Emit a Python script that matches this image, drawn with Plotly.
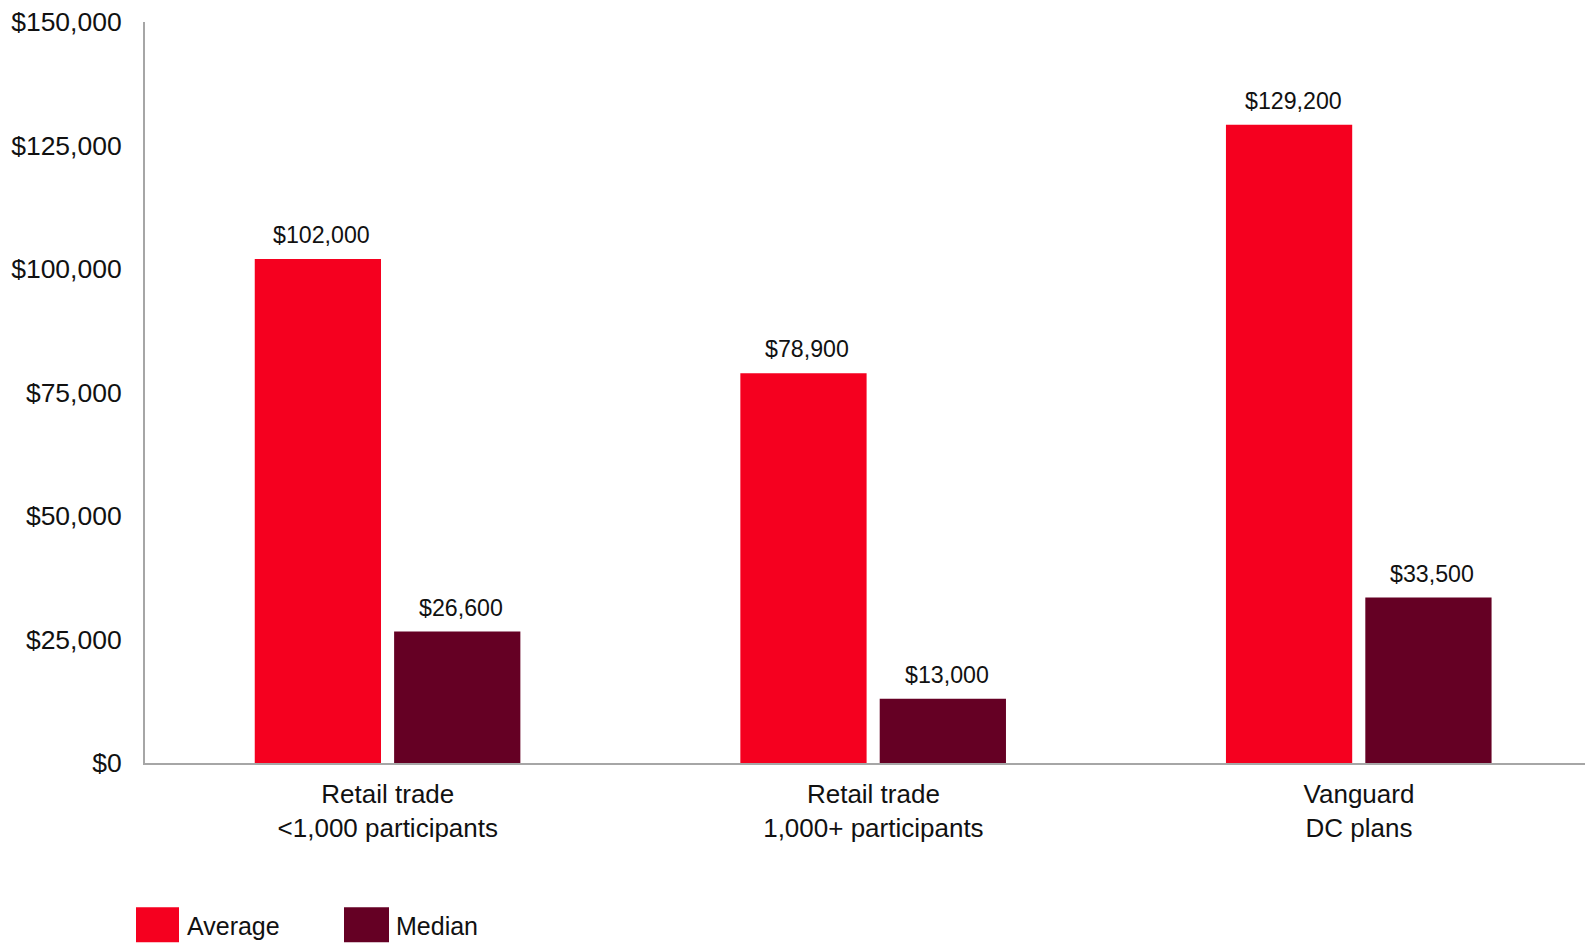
import plotly.graph_objects as go

# Account balances by plan type
categories = ["Retail trade<br><1,000 participants",
              "Retail trade<br>1,000+ participants",
              "Vanguard<br>DC plans"]
average = [102000, 78900, 129200]
median = [26600, 13000, 33500]
series_names = ["Average", "Median"]
y_ticks = [0, 25000, 50000, 75000, 100000, 125000, 150000]

RED = "#F5001F"
MAROON = "#650024"
FONT = "Arial, Liberation Sans, sans-serif"
TEXT = "#111111"
AXIS = "#A6A6A6"

BAR_W = 0.26
OFFSETS = [-0.274, 0.013]
positions = list(range(len(categories)))

fig = go.Figure()
for name, vals, color, off in zip(series_names, [average, median], [RED, MAROON], OFFSETS):
    fig.add_trace(go.Bar(
        x=positions, y=vals, name=name,
        width=BAR_W, offset=off,
        marker=dict(color=color, line=dict(width=0)),
        showlegend=False,
    ))
    # value labels above each bar
    for xi, v in zip(positions, vals):
        fig.add_annotation(
            x=xi + off + BAR_W / 2, y=v, xref="x", yref="y",
            text="${:,.0f}".format(v), showarrow=False,
            yanchor="bottom", yshift=9, xshift=4,
            font=dict(family=FONT, size=23.2, color=TEXT),
        )

# legend drawn as swatches + labels under the plot
legend_items = [(series_names[0], RED, 136, 179, 185), (series_names[1], MAROON, 344, 389, 394)]
W, H = 1585, 943
for label, color, x0, x1, tx in legend_items:
    fig.add_shape(type="rect", xref="paper", yref="paper",
                  x0=(x0 - 145) / 1440, x1=(x1 - 145) / 1440,
                  y0=-(907 - 762.7) / 741, y1=-(942 - 762.7) / 741,
                  fillcolor=color, line=dict(width=0))
    fig.add_annotation(x=(tx - 145) / 1440, y=-(926 - 762.7) / 741,
                       xref="paper", yref="paper", text=label,
                       showarrow=False, xanchor="left", yanchor="middle",
                       font=dict(family=FONT, size=25, color=TEXT))

fig.update_layout(
    width=W, height=H,
    margin=dict(l=145, r=0, t=22, b=180, autoexpand=False),
    plot_bgcolor="white", paper_bgcolor="white",
    barmode="overlay",
    font=dict(family=FONT, color=TEXT),
)
fig.update_xaxes(
    range=[-0.5, 2.4654],
    tickvals=positions, ticktext=categories,
    ticks="", showgrid=False, zeroline=False,
    showline=True, linecolor=AXIS, linewidth=2,
    tickfont=dict(family=FONT, size=26, color=TEXT),
    ticklabelstandoff=7,
)
fig.update_yaxes(
    range=[0, 150000],
    tickvals=y_ticks, ticktext=["${:,.0f}".format(t) for t in y_ticks],
    ticks="", showgrid=False, zeroline=False,
    showline=True, linecolor=AXIS, linewidth=2,
    tickfont=dict(family=FONT, size=26.5, color=TEXT),
    ticklabelstandoff=16,
)

fig.write_html("out.html")
